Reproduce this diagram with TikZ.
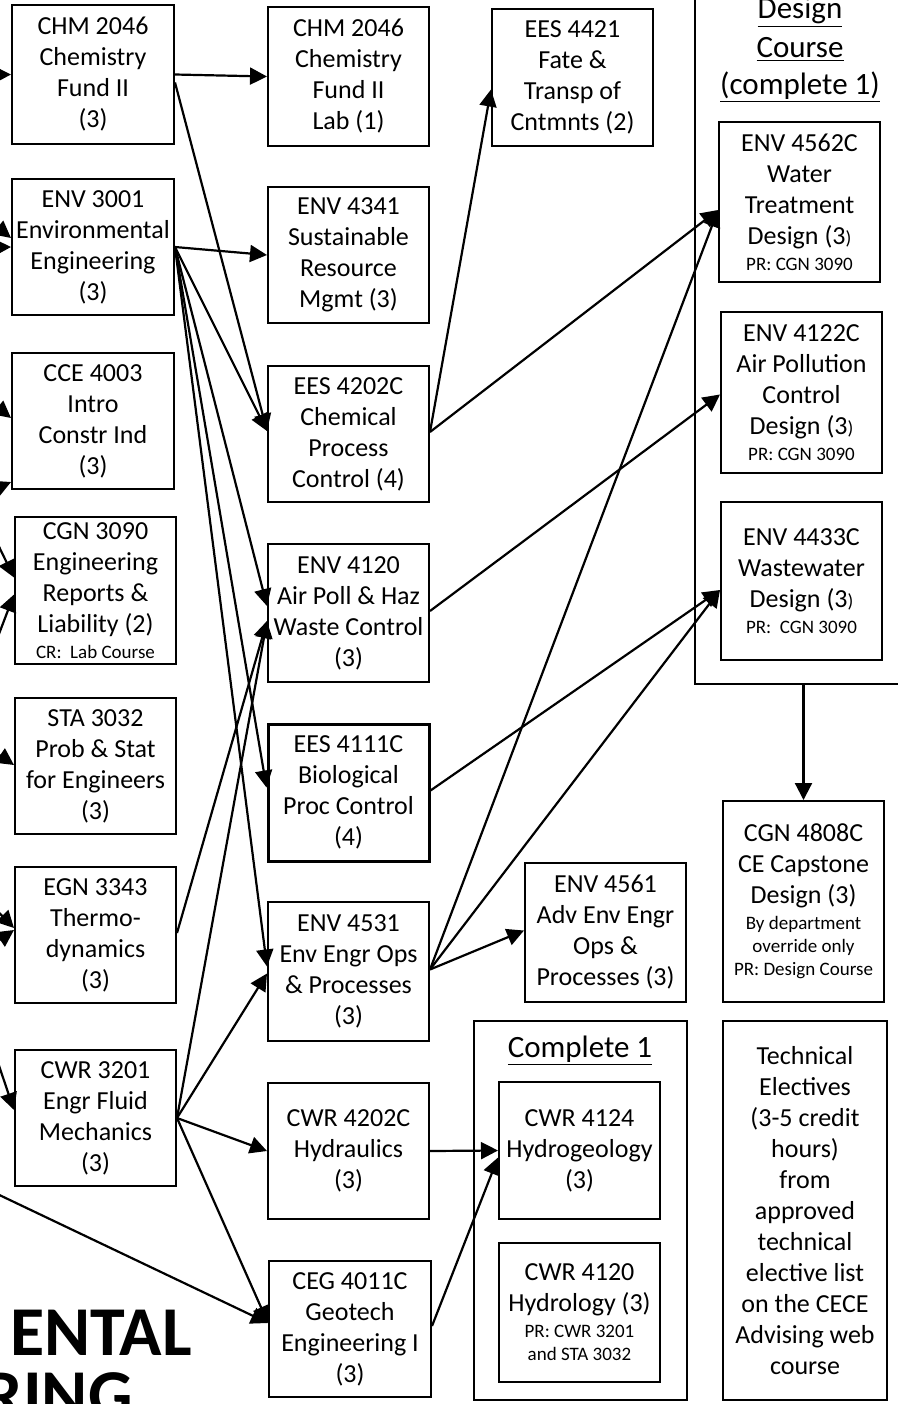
\documentclass[tikz,border=0pt]{standalone}
\usepackage{fontspec}
\setmainfont{Carlito}
\usetikzlibrary{arrows.meta}
\newcommand\sm[1]{{\fontsize{9.5}{11.5}\selectfont #1}}
\begin{document}
\begin{tikzpicture}[x=0.5pt, y=-0.5pt,
  box/.style={draw, line width=1pt, align=center, inner sep=0pt, font=\fontsize{13}{15.5}\selectfont},
  bx/.style n args={2}{box, minimum width=#1*0.5pt, minimum height=#2*0.5pt},
  arr/.style={line width=1.1pt, -{Triangle[length=8.5pt,width=8.5pt]}},
  grp/.style={draw, line width=1.4pt, inner sep=0pt},
  hd/.style={anchor=base, inner sep=0pt, font=\fontsize{15.5}{19}\selectfont},
  ttl/.style={anchor=base east, inner sep=0pt, font=\fontsize{35}{35}\selectfont\bfseries}]
\useasboundingbox (0,0) rectangle (898,1404);
\clip (0,0) rectangle (898,1404);

% column 1
\node[bx={162}{139}] (chm) at (93,74.5) {CHM 2046\\Chemistry\\Fund II\\(3)};
\node[bx={162}{136}] (env3001) at (93,247) {ENV 3001\\Environmental\\Engineering\\(3)};
\node[bx={162}{136}] (cce) at (93,421) {CCE 4003\\Intro\\Constr Ind\\(3)};
\node[bx={161}{147}] (cgn3090) at (95.5,590.5) {CGN 3090\\Engineering\\Reports \&\\Liability (2)\\[-2.5pt]\sm{CR:\ \ Lab Course}};
\node[bx={161}{136}] (sta) at (95.5,766) {STA 3032\\Prob \& Stat\\for Engineers\\(3)};
\node[bx={161}{136}] (egn) at (95.5,935) {EGN 3343\\Thermo-\\dynamics\\(3)};
\node[bx={161}{136}] (cwr3201) at (95.5,1118) {CWR 3201\\Engr Fluid\\Mechanics\\(3)};

% column 2
\node[bx={161}{139}] (lab) at (348.5,76.5) {CHM 2046\\Chemistry\\Fund II\\Lab (1)};
\node[bx={161}{136}] (env4341) at (348.5,255) {ENV 4341\\Sustainable\\Resource\\Mgmt (3)};
\node[bx={161}{136}] (ees4202) at (348.5,434) {EES 4202C\\Chemical\\Process\\Control (4)};
\node[bx={161}{138}] (env4120) at (348.5,613) {ENV 4120\\Air Poll \& Haz\\Waste Control\\(3)};
\node[bx={161}{137}, line width=1.5pt] (ees4111) at (348.5,792.5) {EES 4111C\\Biological\\Proc Control\\(4)};
\node[bx={161}{139}] (env4531) at (348.5,971.5) {ENV 4531\\Env Engr Ops\\\& Processes\\(3)};
\node[bx={161}{136}] (cwr4202) at (348.5,1151) {CWR 4202C\\Hydraulics\\(3)};
\node[bx={162}{136}] (ceg) at (350,1329) {CEG 4011C\\Geotech\\Engineering I\\(3)};

% column 3
\node[bx={161}{137}] (ees4421) at (572.5,77.5) {EES 4421\\Fate \&\\Transp of\\Cntmnts (2)};
\node[bx={161}{139}] (env4561) at (605.5,932.5) {ENV 4561\\Adv Env Engr\\Ops \&\\Processes (3)};
\node[grp, minimum width=106.5pt, minimum height=189.5pt] (cmpbox) at (580.5,1210.5) {};
\node[hd] (cmp) at (580,1057) {\underline{Complete 1}};
\node[bx={161}{137}] (cwr4124) at (579.5,1150.5) {CWR 4124\\Hydrogeology\\(3)};
\node[bx={161}{139}] (cwr4120) at (579.5,1312.5) {CWR 4120\\Hydrology (3)\\[-2.5pt]\sm{PR: CWR 3201}\\[-4pt]\sm{and STA 3032}};

% design group
\node[grp, minimum width=112.5pt, minimum height=352pt] (dsgbox) at (807.5,332) {};
\node[hd] (h1) at (800,18) {\underline{Design}};
\node[hd] (h2) at (800,57) {\underline{Course}};
\node[hd] (h3) at (800,94) {\underline{(complete 1)}};
\node[bx={161}{160}] (env4562) at (799.5,202) {ENV 4562C\\Water\\Treatment\\Design (3\sm{)}\\[-2.5pt]\sm{PR: CGN 3090}};
\node[bx={161}{161}] (env4122) at (801.5,392.5) {ENV 4122C\\Air Pollution\\Control\\Design (3\sm{)}\\[-2.5pt]\sm{PR: CGN 3090}};
\node[bx={161}{158}] (env4433) at (801.5,581) {ENV 4433C\\Wastewater\\Design (3\sm{)}\\[-2.5pt]\sm{PR:\ \ CGN 3090}};
\node[bx={161}{201}] (cgn4808) at (803.5,901.5) {CGN 4808C\\CE Capstone\\Design (3)\\[-2.5pt]\sm{By department}\\[-4pt]\sm{override only}\\[-4pt]\sm{PR: Design Course}};
\node[bx={164}{379}] (tech) at (805,1210.5) {Technical\\Electives\\(3-5 credit\\hours)\\from\\approved\\technical\\elective list\\on the CECE\\Advising web\\course};

% title fragments
\node[ttl] (t1) at (192,1355) {ENTAL};
\node[ttl] (t2) at (133,1418) {RING};

% off-picture sources
\coordinate (o1) at (-30,75);
\coordinate (o2) at (-30,205);
\coordinate (o3) at (-30,248);
\coordinate (o4) at (-30,385);
\coordinate (o5) at (-30,500);
\coordinate (o6) at (-30,487);
\coordinate (o7) at (-30,710);
\coordinate (o8) at (-30,735);
\coordinate (o9) at (-30,883);
\coordinate (o10) at (-30,960);
\coordinate (o11) at (-30,980);
\coordinate (o12) at (-30,1181);

\draw[arr] (o1) -- (chm.west);
\draw[arr] (o2) -- ([shift={(0,-9)}]env3001.west);
\draw[arr] (o3) -- (env3001.west);
\draw[arr] (o4) -- ([shift={(0,-3)}]cce.west);
\draw[arr] (o5) -- ([shift={(0,61)}]cce.west);
\draw[arr] (o6) -- ([shift={(0,-13)}]cgn3090.west);
\draw[arr] (o7) -- ([shift={(0,4)}]cgn3090.west);
\draw[arr] (o8) -- ([shift={(0,-1)}]sta.west);
\draw[arr] (o9) -- ([shift={(0,-7)}]egn.west);
\draw[arr] (o10) -- ([shift={(0,-5)}]egn.west);
\draw[arr] (o11) -- ([shift={(0,-8)}]cwr3201.west);
\draw[arr] (o12) -- ([shift={(0,-6)}]ceg.west);

% internal connectors
\draw[arr] (chm.east) -- (lab.west);
\draw[arr] ([shift={(0,8)}]chm.east) -- ([shift={(0,-3)}]ees4202.west);
\draw[arr] (env3001.east) -- (env4341.west);
\draw[arr] (env3001.east) -- ([shift={(0,-3)}]ees4202.west);
\draw[arr] (env3001.east) -- ([shift={(0,-7)}]env4120.west);
\draw[arr] (env3001.east) -- ([shift={(0,-5)}]ees4111.west);
\draw[arr] (env3001.east) -- ([shift={(0,-5)}]env4531.west);
\draw[arr] ([shift={(0,-2)}]egn.east) -- ([shift={(0,8)}]env4120.west);
\draw[arr] (cwr3201.east) -- ([shift={(0,8)}]env4120.west);
\draw[arr] (cwr3201.east) -- ([shift={(0,2)}]env4531.west);
\draw[arr] (cwr3201.east) -- (cwr4202.west);
\draw[arr] (cwr3201.east) -- ([shift={(0,-6)}]ceg.west);
\draw[arr] ([shift={(0,-2)}]ees4202.east) -- ([shift={(0,12)}]ees4421.west);
\draw[arr] ([shift={(0,-2)}]ees4202.east) -- ([shift={(0,8)}]env4562.west);
\draw[arr] ([shift={(0,-2)}]env4120.east) -- ([shift={(0,2)}]env4122.west);
\draw[arr] ([shift={(0,-2)}]ees4111.east) -- ([shift={(0,9)}]env4433.west);
\draw[arr] ([shift={(0,-2)}]env4531.east) -- ([shift={(0,9)}]env4433.west);
\draw[arr] ([shift={(0,-2)}]env4531.east) -- ([shift={(0,8)}]env4562.west);
\draw[arr] ([shift={(0,-2)}]env4531.east) -- ([shift={(0,-2)}]env4561.west);
\draw[arr] (cwr4202.east) -- (cwr4124.west);
\draw[arr] ([shift={(0,-3)}]ceg.east) -- ([shift={(0,7)}]cwr4124.west);
\draw[arr] (dsgbox.south -| cgn4808.north) -- (cgn4808.north);
\end{tikzpicture}
\end{document}
